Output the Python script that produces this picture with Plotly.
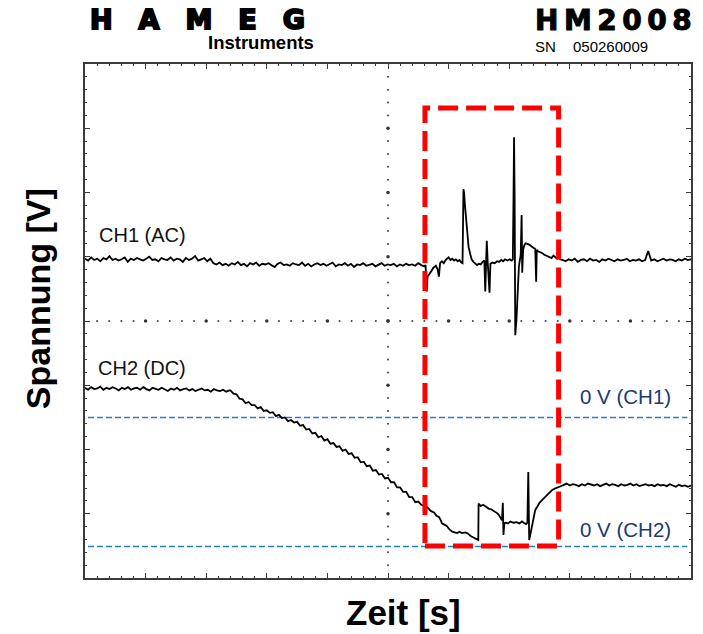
import numpy as np
import plotly.graph_objects as go

# ---------------- data (screen divisions: x 0..10, y 0..8) ----------------
# CH1 (AC) - noisy baseline before the event
CH1_LEFT_SPAN = (0.00, 5.60)
CH1_BASE_LEFT = [4.97, 4.94, 4.99, 4.95, 4.97, 4.93, 4.98, 4.96, 5.01, 4.95, 4.97, 4.94, 4.96, 4.99,
                 4.92, 4.97, 4.95, 4.98, 4.96, 4.94, 4.97, 5.00, 4.95, 4.96, 4.93, 4.98, 4.96, 4.95,
                 4.99, 4.94, 4.97, 4.96, 4.92, 4.98, 4.95, 4.97, 5.01, 4.94, 4.96, 4.98, 4.93, 4.97,
                 4.90, 4.88, 4.91, 4.87, 4.89, 4.86, 4.90, 4.88, 4.92, 4.87, 4.89, 4.85, 4.90, 4.88,
                 4.91, 4.86, 4.89, 4.88, 4.90, 4.87, 4.84, 4.89, 4.91, 4.87, 4.88, 4.86, 4.90, 4.88,
                 4.87, 4.91, 4.86, 4.89, 4.85, 4.88, 4.90, 4.87, 4.89, 4.86, 4.88, 4.91, 4.85, 4.88,
                 4.87, 4.90, 4.86, 4.89, 4.84, 4.88, 4.87, 4.90, 4.86, 4.88, 4.89, 4.85, 4.87, 4.90,
                 4.86, 4.88, 4.87, 4.89, 4.85, 4.88, 4.86, 4.89, 4.87, 4.88, 4.86, 4.90, 4.87, 4.85]
# CH1 event inside the red box
CH1_EVENT_X = [5.62, 5.635, 5.64, 5.65, 5.66, 5.69, 5.72, 5.75, 5.79, 5.82, 5.84, 5.86, 5.89, 5.92,
               5.95, 5.98, 6.00, 6.03, 6.06, 6.09, 6.12, 6.15, 6.18, 6.21, 6.23, 6.245, 6.255, 6.27,
               6.29, 6.31, 6.33, 6.36, 6.38, 6.41, 6.44, 6.47, 6.50, 6.53, 6.56, 6.59, 6.605, 6.615,
               6.63, 6.645, 6.675, 6.69, 6.72, 6.76, 6.80, 6.83, 6.87, 6.90, 6.93, 6.97, 7.01, 7.04,
               7.06, 7.07, 7.08, 7.09, 7.10, 7.12, 7.14, 7.16, 7.19, 7.205, 7.215, 7.23, 7.25, 7.27,
               7.30, 7.33, 7.37, 7.40, 7.43, 7.445, 7.455, 7.47, 7.50, 7.54, 7.58, 7.62, 7.66, 7.70,
               7.73, 7.76, 7.79, 7.82, 7.86]
CH1_EVENT_Y = [4.87, 4.61, 4.46, 4.67, 4.70, 4.74, 4.78, 4.83, 4.86, 4.80, 4.69, 4.90, 4.93, 4.90,
               4.95, 4.97, 4.99, 4.95, 4.97, 4.94, 4.96, 4.93, 4.95, 4.91, 4.90, 6.05, 6.00, 5.80,
               5.55, 5.30, 5.15, 5.03, 4.96, 4.92, 4.90, 4.87, 4.89, 4.88, 4.92, 4.94, 4.46, 4.92,
               5.25, 4.92, 4.44, 4.89, 4.91, 4.90, 4.93, 4.92, 4.95, 4.93, 4.96, 4.94, 4.96, 4.94,
               4.96, 5.84, 6.86, 5.88, 3.78, 4.02, 4.48, 4.85, 5.03, 5.65, 4.75, 5.11, 5.18, 5.21,
               5.20, 5.19, 5.16, 5.14, 5.12, 4.61, 5.11, 5.09, 5.08, 5.06, 5.03, 5.01, 5.00, 4.98,
               5.02, 4.99, 4.97, 4.98, 4.95]
# CH1 baseline after the event
CH1_RIGHT_SPAN = (7.88, 10.00)
CH1_BASE_RIGHT = [4.95, 4.93, 4.96, 4.94, 4.97, 4.92, 4.95, 4.96, 4.93, 4.97, 4.94, 4.95, 4.92, 4.96,
                  4.94, 4.97, 4.95, 4.93, 4.96, 4.94, 4.95, 4.97, 4.93, 4.95, 4.94, 4.96, 4.93, 4.95,
                  5.09, 4.94, 4.96, 4.93, 4.95, 4.97, 4.94, 4.96, 4.95, 4.93, 4.96, 4.94, 4.97, 4.95,
                  4.96]

# CH2 (DC)
CH2_LEFT_SPAN = (0.00, 2.38)
CH2_FLAT_LEFT = [2.96, 2.93, 2.97, 2.94, 2.95, 2.98, 2.93, 2.96, 2.94, 2.97, 2.95, 2.92, 2.96, 2.94,
                 2.97, 2.93, 2.95, 2.96, 2.93, 2.97, 2.94, 2.92, 2.96, 2.95, 2.93, 2.96, 2.94, 2.91,
                 2.95, 2.93, 2.96, 2.92, 2.94, 2.95, 2.92, 2.94, 2.91, 2.93, 2.95, 2.92, 2.93, 2.90,
                 2.94, 2.92, 2.91, 2.93, 2.90, 2.92]
CH2_RAMP_SPAN = (2.40, 5.55)
CH2_RAMP = [2.92, 2.87, 2.86, 2.79, 2.78, 2.72, 2.74, 2.69, 2.69, 2.64, 2.66, 2.60, 2.61, 2.57,
            2.58, 2.52, 2.54, 2.49, 2.50, 2.44, 2.46, 2.42, 2.43, 2.37, 2.38, 2.31, 2.32, 2.25,
            2.26, 2.19, 2.21, 2.14, 2.16, 2.09, 2.10, 2.04, 2.05, 1.98, 2.00, 1.93, 1.94, 1.87,
            1.88, 1.80, 1.81, 1.74, 1.75, 1.67, 1.68, 1.61, 1.62, 1.55, 1.56, 1.49, 1.49, 1.41,
            1.41, 1.34, 1.34, 1.26, 1.26, 1.18, 1.19, 1.14]
CH2_EVENT_X = [5.60, 5.65, 5.71, 5.76, 5.80, 5.84, 5.87, 5.89, 5.93, 5.97, 6.01, 6.06, 6.10, 6.14,
               6.18, 6.22, 6.28, 6.32, 6.37, 6.42, 6.47, 6.49, 6.495, 6.53, 6.57, 6.61, 6.66, 6.70,
               6.74, 6.77, 6.80, 6.83, 6.86, 6.88, 6.895, 6.905, 6.92, 6.94, 6.98, 7.02, 7.07, 7.12,
               7.17, 7.21, 7.24, 7.28, 7.30, 7.315, 7.33, 7.345, 7.37, 7.40, 7.43, 7.47, 7.50, 7.55,
               7.60, 7.65, 7.71, 7.77, 7.84, 7.88]
CH2_EVENT_Y = [1.12, 1.10, 1.04, 1.02, 0.97, 0.95, 0.90, 0.85, 0.83, 0.81, 0.76, 0.72, 0.71, 0.70,
               0.72, 0.70, 0.71, 0.69, 0.65, 0.62, 0.59, 0.59, 1.16, 1.12, 1.14, 1.11, 1.08, 1.07,
               1.05, 1.03, 1.01, 0.98, 0.94, 0.90, 1.17, 0.67, 0.85, 0.86, 0.85, 0.88, 0.86, 0.87,
               0.85, 0.88, 0.86, 0.84, 0.86, 1.65, 0.59, 0.66, 0.75, 0.92, 1.06, 1.12, 1.17, 1.22,
               1.27, 1.32, 1.37, 1.40, 1.42, 1.44]
CH2_RIGHT_SPAN = (7.90, 10.00)
CH2_FLAT_RIGHT = [1.45, 1.47, 1.44, 1.46, 1.45, 1.43, 1.46, 1.44, 1.47, 1.45, 1.44, 1.46, 1.43, 1.45,
                  1.47, 1.44, 1.46, 1.45, 1.43, 1.46, 1.44, 1.45, 1.47, 1.44, 1.46, 1.43, 1.45, 1.46,
                  1.44, 1.45, 1.43, 1.46, 1.44, 1.45, 1.43, 1.46, 1.44, 1.42, 1.45, 1.43, 1.44, 1.42,
                  1.44]

# reference levels and marked region
ZERO_CH1 = 2.50
ZERO_CH2 = 0.49
BOX_X = (5.61, 7.815)
BOX_Y = (0.50, 7.315)

# labels
LBL_CH1 = "CH1 (AC)"
LBL_CH2 = "CH2 (DC)"
LBL_ZERO1 = "0 V (CH1)"
LBL_ZERO2 = "0 V (CH2)"
X_TITLE = "Zeit [s]"
Y_TITLE = "Spannung [V]"

# ---------------- build traces ----------------
def seg(span, vals):
    return list(np.linspace(span[0], span[1], len(vals))), list(vals)

x1a, y1a = seg(CH1_LEFT_SPAN, CH1_BASE_LEFT)
x1c, y1c = seg(CH1_RIGHT_SPAN, CH1_BASE_RIGHT)
ch1_x = x1a + CH1_EVENT_X + x1c
ch1_y = y1a + CH1_EVENT_Y + y1c

x2a, y2a = seg(CH2_LEFT_SPAN, CH2_FLAT_LEFT)
x2b, y2b = seg(CH2_RAMP_SPAN, CH2_RAMP)
x2d, y2d = seg(CH2_RIGHT_SPAN, CH2_FLAT_RIGHT)
ch2_x = x2a + x2b + CH2_EVENT_X + x2d
ch2_y = y2a + y2b + CH2_EVENT_Y + y2d

fig = go.Figure()

# graticule centre cross (dots at minor divisions, larger at majors)
minor = np.round(np.arange(0.2, 10.0, 0.2), 2)
minor_x = [v for v in minor if abs(v - round(v)) > 1e-6]
minor_y = [v for v in minor if v < 8 and abs(v - round(v)) > 1e-6]
maj_x = list(range(1, 10))
maj_y = list(range(1, 8))
fig.add_trace(go.Scatter(x=minor_x + [5] * len(minor_y), y=[4] * len(minor_x) + minor_y,
                         mode="markers", marker=dict(size=2, color="#444"), hoverinfo="skip"))
fig.add_trace(go.Scatter(x=maj_x + [5] * len(maj_y), y=[4] * len(maj_x) + maj_y,
                         mode="markers", marker=dict(size=3.5, color="#333"), hoverinfo="skip"))

fig.add_trace(go.Scatter(x=ch1_x, y=ch1_y, mode="lines", line=dict(color="#000", width=1.8),
                         name="CH1"))
fig.add_trace(go.Scatter(x=ch2_x, y=ch2_y, mode="lines", line=dict(color="#000", width=1.8),
                         name="CH2"))

shapes = []
for lvl in (ZERO_CH1, ZERO_CH2):
    shapes.append(dict(type="line", xref="x", yref="y", x0=0.05, x1=9.94, y0=lvl, y1=lvl,
                       line=dict(color="#2a7dc9", width=1.5, dash="6px,3px"), layer="below"))
shapes.append(dict(type="rect", xref="x", yref="y", x0=BOX_X[0], x1=BOX_X[1],
                   y0=BOX_Y[0], y1=BOX_Y[1],
                   line=dict(color="#ff0000", width=5, dash="20px,8px"), layer="above"))

FONT = "Liberation Sans, Arial, sans-serif"
ann = []
ann.append(dict(x=0.19, y=5.34, xref="x", yref="y", text=LBL_CH1, showarrow=False,
                xanchor="left", yanchor="middle", font=dict(family=FONT, size=20, color="#111")))
ann.append(dict(x=0.18, y=3.27, xref="x", yref="y", text=LBL_CH2, showarrow=False,
                xanchor="left", yanchor="middle", font=dict(family=FONT, size=20, color="#111")))
ann.append(dict(x=8.14, y=2.82, xref="x", yref="y", text=LBL_ZERO1, showarrow=False,
                xanchor="left", yanchor="middle", font=dict(family=FONT, size=20.5, color="#1b3a73")))
ann.append(dict(x=8.14, y=0.75, xref="x", yref="y", text=LBL_ZERO2, showarrow=False,
                xanchor="left", yanchor="middle", font=dict(family=FONT, size=20.5, color="#1b3a73")))

# axis titles
ann.append(dict(x=0.5263, y=-0.068, xref="paper", yref="paper", text="<b>" + X_TITLE + "</b>",
                showarrow=False, xanchor="center", yanchor="middle",
                font=dict(family=FONT, size=35, color="#000")))
ann.append(dict(x=-0.0773, y=0.5428, xref="paper", yref="paper", text="<b>" + Y_TITLE + "</b>",
                showarrow=False, textangle=-90, xanchor="center", yanchor="middle",
                font=dict(family=FONT, size=34, color="#000")))

# header
ann.append(dict(x=0.2064, y=1.0875, xref="paper", yref="paper",
                text="<span style='letter-spacing:26px;stroke:#000;stroke-width:2px'>HAMEG</span>",
                showarrow=False, xanchor="center", yanchor="middle",
                font=dict(family="DejaVu Sans, sans-serif", size=27, color="#000", weight="bold")))
ann.append(dict(x=0.3816, y=1.0420, xref="paper", yref="paper", text="<b>Instruments</b>",
                showarrow=False, xanchor="right", yanchor="middle",
                font=dict(family=FONT, size=18.5, color="#000")))
ann.append(dict(x=0.740, y=1.0837, xref="paper", yref="paper",
                text="<span style='letter-spacing:5.5px;stroke:#000;stroke-width:1px'>HM2008</span>",
                showarrow=False, xanchor="left", yanchor="middle",
                font=dict(family="DejaVu Sans, sans-serif", size=28, color="#000", weight="bold")))
ann.append(dict(x=0.740, y=1.034, xref="paper", yref="paper", text="SN",
                showarrow=False, xanchor="left", yanchor="middle",
                font=dict(family=FONT, size=15, color="#000")))
ann.append(dict(x=0.8026, y=1.034, xref="paper", yref="paper", text="050260009",
                showarrow=False, xanchor="left", yanchor="middle",
                font=dict(family=FONT, size=15, color="#000")))

axis_common = dict(showgrid=False, zeroline=False, showticklabels=False, showline=True,
                   linecolor="#3a3a3a", linewidth=1.8, mirror="ticks", ticks="inside",
                   ticklen=5, tickwidth=1.2, tickcolor="#3a3a3a", tick0=0, dtick=1,
                   minor=dict(ticks="inside", ticklen=2.5, tickwidth=1, tickcolor="#3a3a3a",
                              dtick=0.2, tick0=0, showgrid=False),
                   fixedrange=True)

# the page places the figure 8 px from the top-left corner, so the figure is 8 px smaller
fig.update_layout(
    width=695, height=626,
    margin=dict(l=77, r=10, t=56, b=56),
    paper_bgcolor="white", plot_bgcolor="white",
    showlegend=False,
    xaxis=dict(range=[0, 10], **axis_common),
    yaxis=dict(range=[0, 8], **axis_common),
    shapes=shapes, annotations=ann,
)

fig.write_html("out.html")
